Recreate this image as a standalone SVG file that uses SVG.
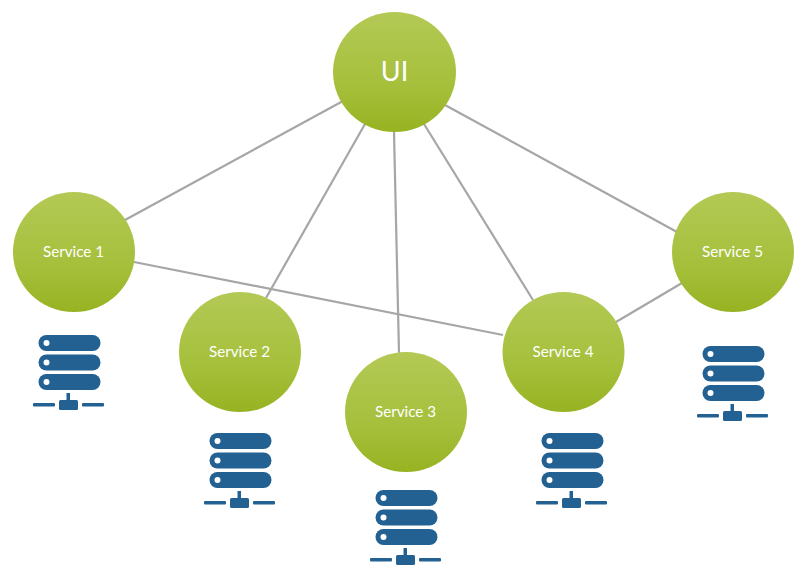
<svg xmlns="http://www.w3.org/2000/svg" xmlns:xlink="http://www.w3.org/1999/xlink" width="805" height="588" viewBox="0 0 805 588">
<style>
.bg{fill:#fff}
.c{fill:url(#g)}
.l{stroke:#a6a6a6;stroke-width:2.2;fill:none}
text{font-family:Lato,"Open Sans",sans-serif;fill:#fff;text-anchor:middle}
.s{font-size:15.200px}
.u{font-size:27px}
.i{fill:#236192}
.d{fill:#fff}
</style>
<defs>
<linearGradient id="g" x1="0" y1="0" x2="0" y2="1">
<stop offset="0" stop-color="#b3c955"/>
<stop offset="0.6" stop-color="#a6c03c"/>
<stop offset="1" stop-color="#97b322"/>
</linearGradient>
<g id="server">
<rect class="i" x="5.500" y="0" width="62" height="16" rx="8"/>
<rect class="i" x="5.500" y="19.500" width="62" height="16" rx="8"/>
<rect class="i" x="5.500" y="39" width="62" height="16" rx="8"/>
<circle class="d" cx="13.500" cy="8" r="3"/>
<circle class="d" cx="13.500" cy="27.500" r="3"/>
<circle class="d" cx="13.500" cy="47" r="3"/>
<rect class="i" x="0" y="68" width="22" height="3.500" rx="1"/>
<rect class="i" x="49" y="68" width="22" height="3.500" rx="1"/>
<rect class="i" x="33.500" y="58" width="3.500" height="8"/>
<rect class="i" x="26" y="65" width="19" height="10" rx="1.500"/>
</g>
</defs>
<rect class="bg" width="805" height="588"/>
<g id="connectors">
<line class="l" x1="343" y1="101" x2="125" y2="220"/>
<line class="l" x1="365" y1="124" x2="266" y2="298"/>
<line class="l" x1="394" y1="132" x2="399" y2="353"/>
<line class="l" x1="424" y1="124" x2="533" y2="300"/>
<line class="l" x1="445" y1="105" x2="677" y2="232"/>
<line class="l" x1="134" y1="262" x2="503" y2="335"/>
<line class="l" x1="616" y1="322" x2="682" y2="283"/>
</g>
<g id="ui"><ellipse class="c" cx="394.500" cy="72" rx="61.500" ry="60"/><text class="u" x="394.500" y="81">UI</text></g>
<g id="service1"><ellipse class="c" cx="74" cy="252" rx="61" ry="60"/><text class="s" x="73.500" y="257">Service 1</text></g>
<g id="service2"><ellipse class="c" cx="240" cy="352" rx="61" ry="60"/><text class="s" x="239.500" y="357">Service 2</text></g>
<g id="service3"><ellipse class="c" cx="406" cy="412" rx="61" ry="60"/><text class="s" x="405.500" y="417">Service 3</text></g>
<g id="service4"><ellipse class="c" cx="563.500" cy="352" rx="61" ry="60"/><text class="s" x="563" y="357">Service 4</text></g>
<g id="service5"><ellipse class="c" cx="733" cy="252" rx="61" ry="60"/><text class="s" x="732.500" y="257">Service 5</text></g>
<g id="server1"><use xlink:href="#server" href="#server" x="33" y="335"/></g>
<g id="server2"><use xlink:href="#server" href="#server" x="204" y="433"/></g>
<g id="server3"><use xlink:href="#server" href="#server" x="370" y="490"/></g>
<g id="server4"><use xlink:href="#server" href="#server" x="536" y="433"/></g>
<g id="server5"><use xlink:href="#server" href="#server" x="697" y="346"/></g>
</svg>
